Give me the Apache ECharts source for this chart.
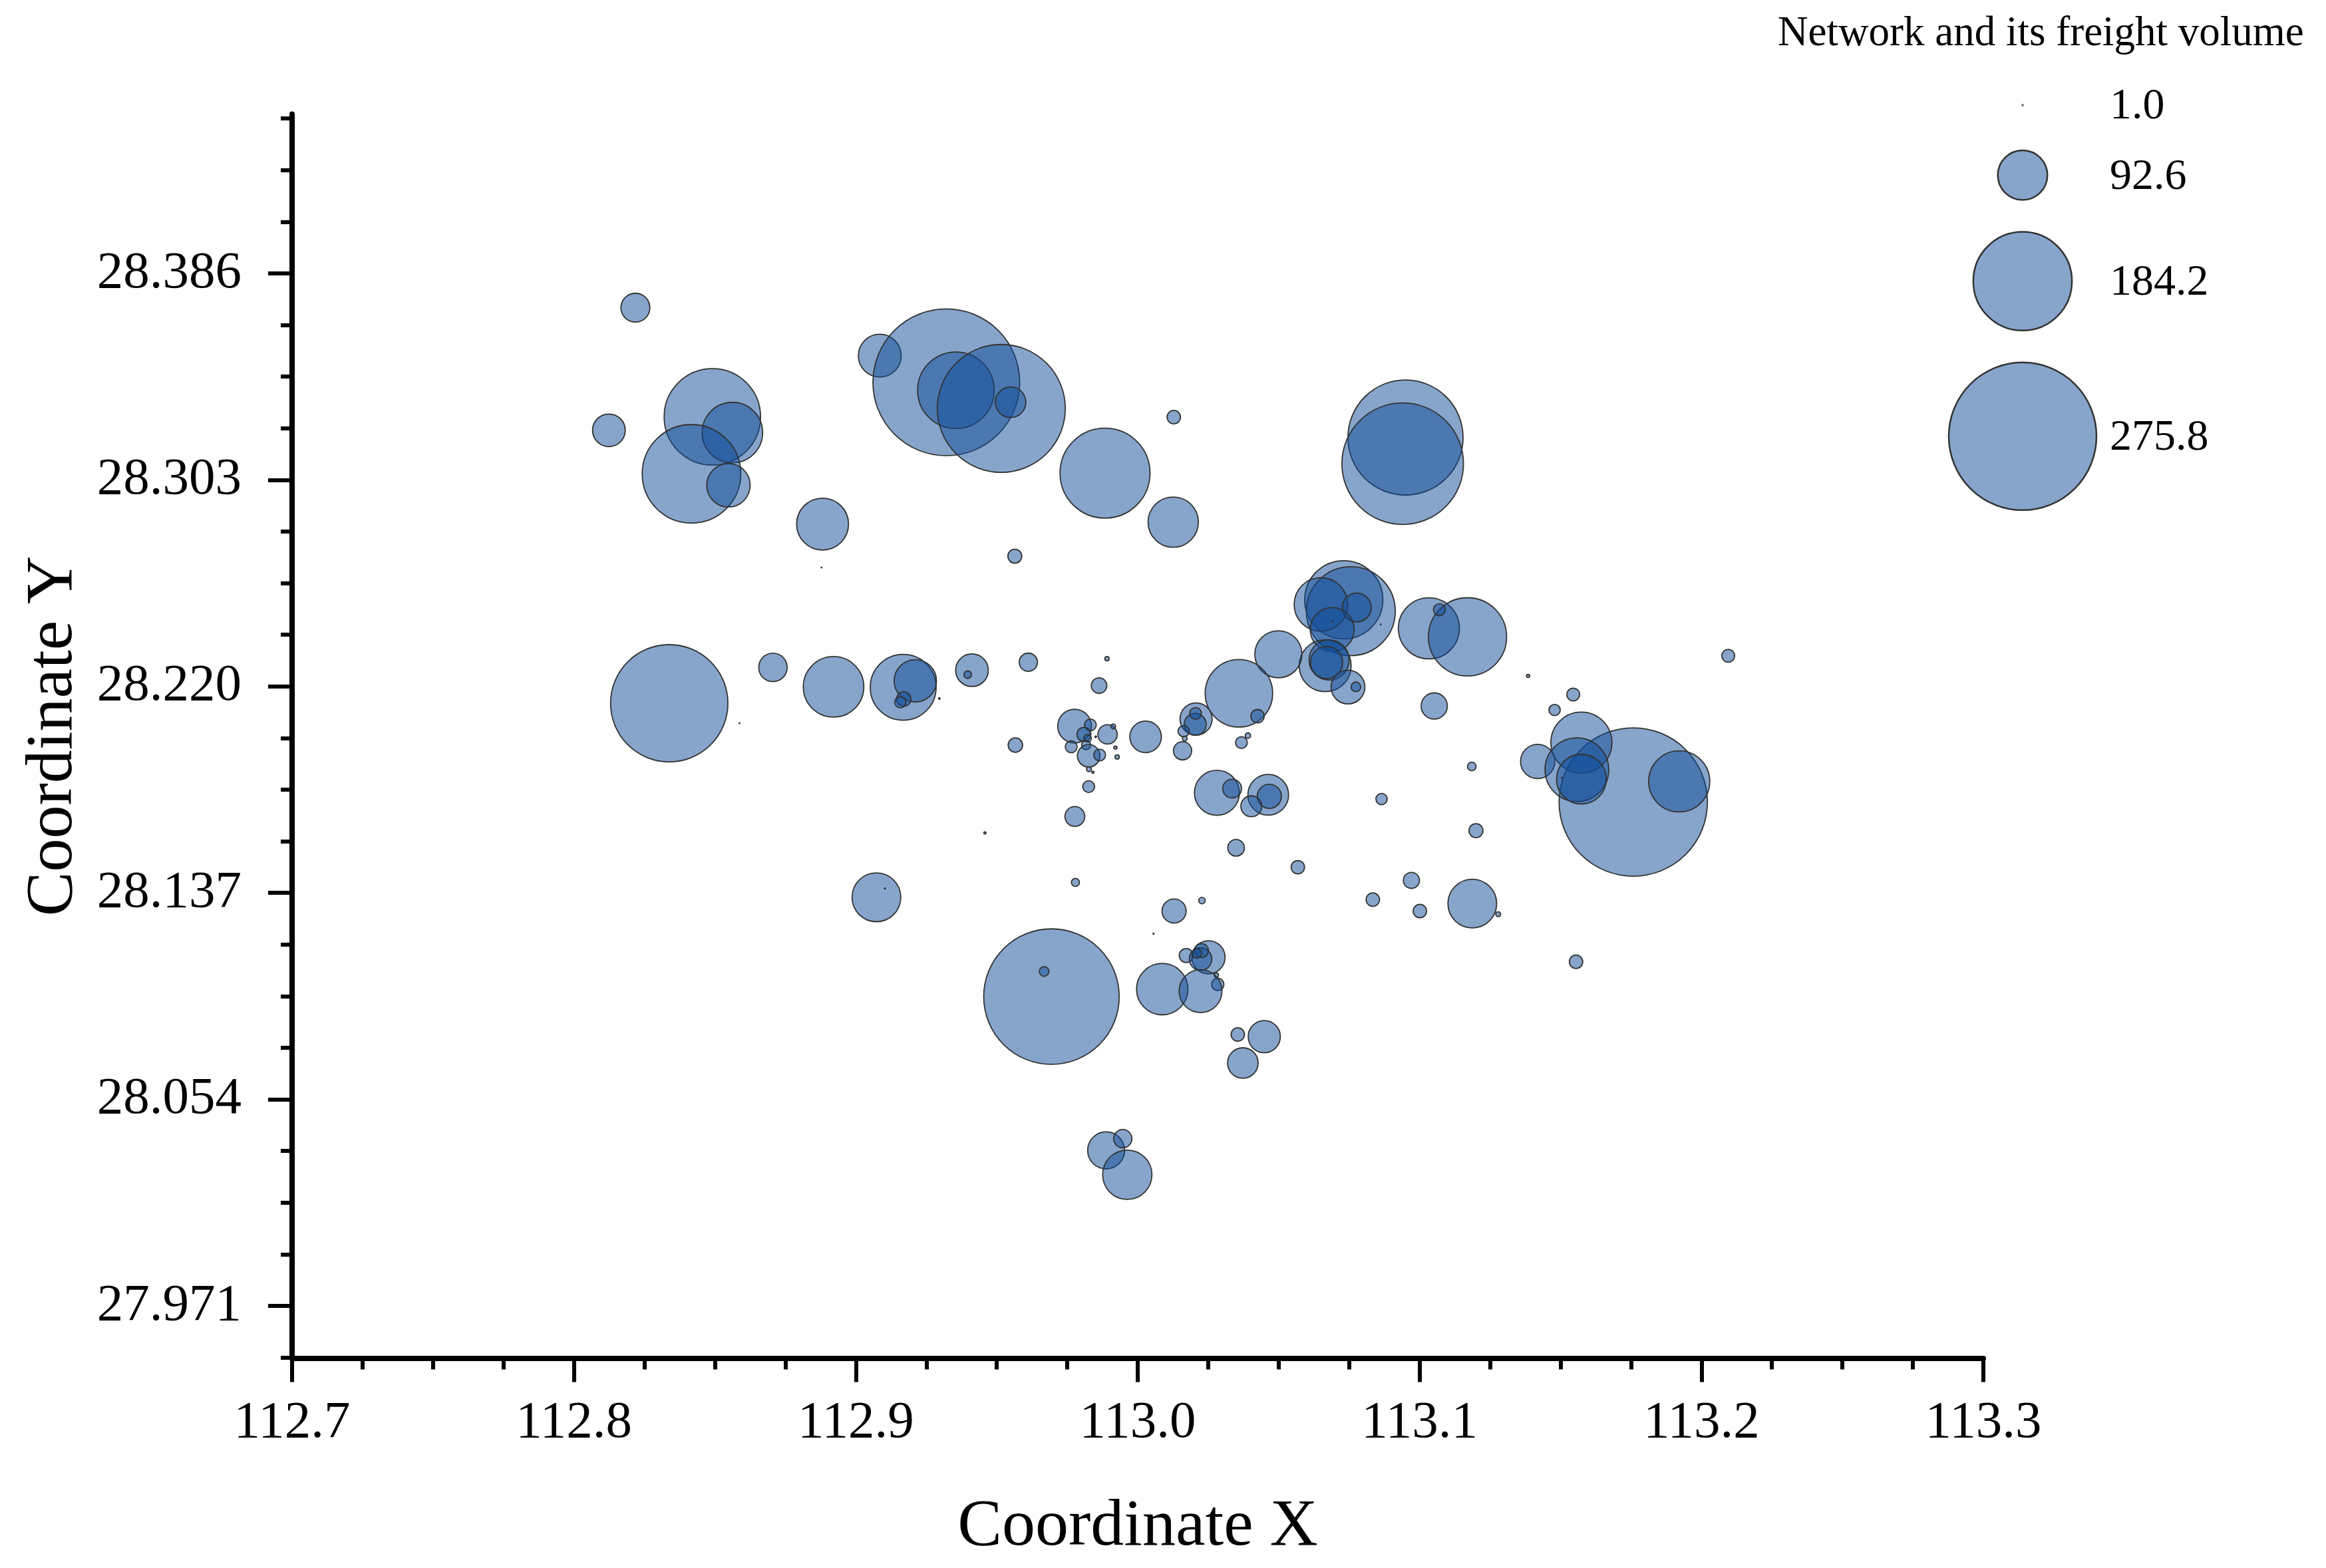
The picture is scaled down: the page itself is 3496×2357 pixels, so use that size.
<!DOCTYPE html>
<html>
<head>
<meta charset="utf-8">
<title>Network and its freight volume</title>
<script src="https://cdn.jsdelivr.net/npm/echarts@6/dist/echarts.min.js"></script>
<style>
    html, body { margin: 0; padding: 0; background: #ffffff; }
    #chart { width: 3496px; height: 2357px; }
</style>
</head>
<body>
<div id="chart"></div>
<script>
// network nodes: coordinates and freight volume
const coordX = [
    112.8218, 112.8124, 112.8491, 112.8562, 112.8417, 112.8548, 112.8882, 112.8878, 112.9085, 112.9321,
    112.9355, 112.9516, 112.9549, 112.9884, 113.0128, 113.0126, 112.9564, 113.0950, 113.0940,
    112.8338, 112.8587, 112.8706, 112.8921, 112.9168, 112.9211, 112.9170, 112.9158, 112.9296, 112.9412,
    112.9397, 112.9612, 112.9891, 112.9863, 112.9776, 112.9832, 112.9809, 112.9822, 112.9893, 112.9913,
    113.0028, 112.9764, 112.9817, 112.9826, 112.9865, 112.9851, 112.9921, 112.9927, 112.9827, 112.9841,
    112.9826, 112.9777, 112.9458, 112.9779, 112.9073, 112.9103, 112.9566,
    113.0731, 113.0756, 113.0650, 113.0777, 113.0690, 113.0691, 113.0862, 113.0665, 113.0679, 113.0670,
    113.0746, 113.0774, 113.0499, 113.0359, 113.0425, 113.0207, 113.0204, 113.0205, 113.0163, 113.0167,
    113.0159, 113.0368, 113.0391, 113.1033, 113.1170, 113.1070, 113.1385, 113.2095, 113.1052, 113.1545,
    113.1479, 113.1758, 113.1921, 113.1574, 113.1419, 113.1558, 113.1574, 113.1505, 113.0281, 113.0335,
    113.0463, 113.0467, 113.0403, 113.0865, 113.1185, 113.1200, 113.0349, 113.0568, 113.0971, 113.1187,
    113.0834, 113.0228, 113.1001, 113.1279, 113.1555,
    112.9694, 112.9668, 113.0129, 113.0056, 113.0172, 113.0251, 113.0223, 113.0226, 113.0210, 113.0279,
    113.0284, 113.0087, 113.0223, 113.0355, 113.0449, 113.0373, 112.9888, 112.9947, 112.9963
];
const coordY = [
    28.3722, 28.3229, 28.3283, 28.3220, 28.3054, 28.3008, 28.2852, 28.2678, 28.3529, 28.3422,
    28.3390, 28.3317, 28.3342, 28.3057, 28.3282, 28.2860, 28.2723, 28.3200, 28.3095,
    28.2132, 28.2052, 28.2276, 28.2198, 28.2196, 28.2222, 28.2149, 28.2136, 28.2151, 28.2265,
    28.2247, 28.2297, 28.2311, 28.2203, 28.2040, 28.2045, 28.2007, 28.1991, 28.2007, 28.2039,
    28.1997, 28.1957, 28.1964, 28.1921, 28.1924, 28.1997, 28.1954, 28.1916, 28.1867, 28.1855,
    28.1797, 28.1677, 28.1611, 28.1412, 28.1352, 28.1388, 28.1964,
    28.2548, 28.2502, 28.2529, 28.2517, 28.2428, 28.2461, 28.2449, 28.2283, 28.2306, 28.2296,
    28.2197, 28.2198, 28.2329, 28.2172, 28.2080, 28.2069, 28.2047, 28.2091, 28.2020, 28.1990,
    28.1941, 28.1974, 28.2002, 28.2433, 28.2399, 28.2508, 28.2242, 28.2323, 28.2121, 28.2167,
    28.2105, 28.1735, 28.1818, 28.1974, 28.1898, 28.1865, 28.1827, 28.1832, 28.1772, 28.1789,
    28.1764, 28.1758, 28.1718, 28.1747, 28.1878, 28.1620, 28.1551, 28.1473, 28.1420, 28.1327,
    28.1343, 28.1339, 28.1297, 28.1284, 28.1093,
    28.0953, 28.1054, 28.1297, 28.1206, 28.1118, 28.1111, 28.1104, 28.1138, 28.1127, 28.1039,
    28.1002, 28.0983, 28.0975, 28.0801, 28.0792, 28.0686, 28.0335, 28.0382, 28.0237
];
const freightVolume = [
    54, 61, 180, 113, 184, 81, 97, 1.5, 80, 274,
    143, 239, 57, 168, 25, 94, 26, 215, 227,
    219, 1.5, 53, 113, 123, 79, 27, 21, 3, 61,
    14, 34, 8, 29, 63, 22, 26, 14, 36, 9,
    59, 22, 17, 42, 22, 3, 6, 8, 9, 4,
    22, 37, 4, 15, 91, 2, 27,
    146, 166, 100, 54, 82, 2, 1.5, 97, 75, 60,
    63, 18, 88, 126, 25, 60, 41, 22, 21, 9,
    34, 22, 10, 114, 146, 22, 6, 24, 49, 24,
    21, 277, 114, 114, 64, 119, 93, 2, 84, 35,
    76, 45, 39, 21, 16, 26, 31, 25, 30, 91,
    25, 12, 25, 9, 25,
    253, 18, 45, 2, 26, 62, 42, 26, 18, 8,
    23, 96, 80, 25, 60, 57, 69, 34, 92
];

// size key values
const legendValues = [1.0, 92.6, 184.2, 275.8];

// y axis tick labels (odd step, so ticks are listed)
const yTickLabels = [27.971, 28.054, 28.137, 28.220, 28.303, 28.386];

const FONT = 'Liberation Serif';
const FILL = 'rgba(15, 75, 151, 0.5)';
const EDGE = '#333333';
const SIZE_PER_UNIT = 0.805; // bubble diameter (px) per unit of volume

const volumeToSize = (v) => Math.max(v * SIZE_PER_UNIT, 1);

// minor ticks: 3 between each labelled tick
const yStep = (yTickLabels[1] - yTickLabels[0]) / 4;
const yMinorTicks = [];
for (let k = -1; k <= 23; k++) {
    if (k % 4 === 0) continue;
    yMinorTicks.push(+(yTickLabels[0] + k * yStep).toFixed(5));
}

const points = coordX.map((x, i) => [x, coordY[i], freightVolume[i]]);

// stack the size key vertically
const legendGap = 48;
const legendPoints = [];
let cy = 38;
legendValues.forEach((v, i) => {
    if (i > 0) {
        const prev = Math.max(volumeToSize(legendValues[i - 1]), 40);
        const cur = Math.max(volumeToSize(v), 40);
        cy += (prev + cur) / 2 + legendGap;
    }
    legendPoints.push([0.5, cy, v]);
});

const chart = echarts.init(document.getElementById('chart'));

const tickLabelStyle = { fontFamily: FONT, fontSize: 79, color: '#000' };

chart.setOption({
    animation: false,
    backgroundColor: '#ffffff',
    title: {
        text: 'Network and its freight volume',
        left: 2672,
        top: 20,
        padding: 0,
        textStyle: { fontFamily: FONT, fontSize: 63, fontWeight: 'normal', color: '#000' }
    },
    grid: [
        { left: 439, top: 171.5, width: 2542, height: 1870 },
        { left: 2890, top: 120, width: 300, height: 700 }
    ],
    xAxis: [{
        type: 'value',
        gridIndex: 0,
        min: 112.7,
        max: 113.3,
        interval: 0.1,
        name: 'Coordinate X',
        nameLocation: 'middle',
        nameGap: 204,
        nameTextStyle: { fontFamily: FONT, fontSize: 100, color: '#000' },
        axisLine: { show: true, lineStyle: { color: '#000', width: 8 } },
        axisTick: { show: true, length: 36, lineStyle: { color: '#000', width: 6 } },
        minorTick: { show: true, splitNumber: 4, length: 17, lineStyle: { color: '#000', width: 6 } },
        axisLabel: Object.assign({ margin: 58, formatter: (v) => v.toFixed(1) }, tickLabelStyle),
        splitLine: { show: false }
    }, {
        type: 'value',
        gridIndex: 1,
        min: 0,
        max: 1,
        show: false
    }],
    yAxis: [{
        type: 'value',
        gridIndex: 0,
        position: 'left',
        min: 27.95,
        max: 28.45,
        name: 'Coordinate Y',
        nameLocation: 'middle',
        nameGap: 308,
        nameTextStyle: { fontFamily: FONT, fontSize: 100, color: '#000' },
        axisLine: { show: true, lineStyle: { color: '#000', width: 8 } },
        axisTick: { show: true, length: 36, customValues: yTickLabels, lineStyle: { color: '#000', width: 6 } },
        axisLabel: Object.assign({ margin: 76, customValues: yTickLabels, formatter: (v) => v.toFixed(3) }, tickLabelStyle),
        splitLine: { show: false }
    }, {
        // second axis on the same line, only for the minor ticks
        type: 'value',
        gridIndex: 0,
        position: 'left',
        min: 27.95,
        max: 28.45,
        axisLine: { show: false },
        axisTick: { show: true, length: 17, customValues: yMinorTicks, lineStyle: { color: '#000', width: 6 } },
        axisLabel: { show: false },
        splitLine: { show: false }
    }, {
        type: 'value',
        gridIndex: 1,
        min: 0,
        max: 700,
        inverse: true,
        show: false
    }],
    series: [{
        name: 'Freight volume',
        type: 'scatter',
        xAxisIndex: 0,
        yAxisIndex: 0,
        data: points,
        symbol: 'circle',
        symbolSize: (val) => volumeToSize(val[2]),
        itemStyle: { color: FILL, borderColor: EDGE, borderWidth: 1.8, opacity: 1 },
        emphasis: { disabled: true },
        silent: true
    }, {
        name: 'Size key',
        type: 'scatter',
        xAxisIndex: 1,
        yAxisIndex: 2,
        data: legendPoints,
        symbol: 'circle',
        symbolSize: (val) => volumeToSize(val[2]),
        itemStyle: { color: FILL, borderColor: EDGE, borderWidth: 2.5, opacity: 1 },
        label: {
            show: true,
            position: 'inside',
            align: 'left',
            verticalAlign: 'middle',
            offset: [131, 3],
            formatter: (p) => p.value[2].toFixed(1),
            fontFamily: FONT,
            fontSize: 66,
            color: '#000'
        },
        emphasis: { disabled: true },
        silent: true
    }]
});
</script>
</body>
</html>
